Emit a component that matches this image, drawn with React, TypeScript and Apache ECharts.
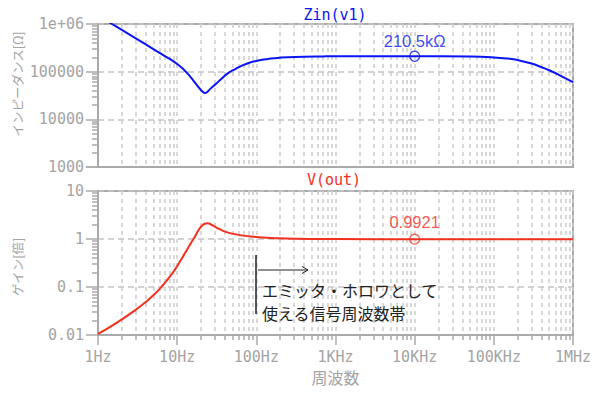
import { useEffect, useRef } from 'react';
import * as echarts from 'echarts';

// ---- data ----
const X_TICK_LABELS = ['1Hz', '10Hz', '100Hz', '1KHz', '10KHz', '100KHz', '1MHz'];
const ZIN_TICK_LABELS = ['1000', '10000', '100000', '1e+06']; // 10^3 .. 10^6
const GAIN_TICK_LABELS = ['0.01', '0.1', '1', '10']; // 10^-2 .. 10^1

const ZIN_FREQ = [1, 1.5, 2, 3, 5, 7, 9, 10.5, 12, 14, 16.8, 19, 21, 22.4, 24, 26, 30, 36, 44, 55, 65, 80, 106, 140, 172, 250, 400, 700, 1000, 10000, 50000, 100000, 150000, 200000, 300000, 400000, 500000, 700000, 1000000];
const ZIN_VALUES = [1.5e6, 1.0e6, 7.5e5, 5.0e5, 2.98e5, 2.12e5, 1.64e5, 1.36e5, 1.12e5, 8.6e4, 5.87e4, 4.54e4, 3.8e4, 3.55e4, 3.75e4, 4.3e4, 5.3e4, 7.0e4, 9.3e4, 1.15e5, 1.32e5, 1.52e5, 1.71e5, 1.85e5, 1.92e5, 2.0e5, 2.06e5, 2.09e5, 2.1e5, 2.105e5, 2.07e5, 1.99e5, 1.88e5, 1.75e5, 1.48e5, 1.24e5, 1.07e5, 8.2e4, 6.0e4];

const GAIN_FREQ = [1, 1.64, 2.93, 4.2, 5.25, 6.37, 8, 9.4, 11, 12.5, 14.5, 16.8, 18.5, 20.4, 22.3, 24.3, 27, 30, 33, 38, 44, 55, 65, 80, 106, 172, 300, 1000, 10000, 1000000];
const GAIN_VALUES = [0.0105, 0.017, 0.0325, 0.0519, 0.0726, 0.102, 0.161, 0.233, 0.351, 0.502, 0.76, 1.13, 1.5, 1.87, 2.08, 2.14, 1.98, 1.8, 1.65, 1.48, 1.36, 1.25, 1.19, 1.14, 1.09, 1.04, 1.01, 0.995, 0.9921, 0.9921];

const ZIN_MARKER = [10000, 210500];
const GAIN_MARKER = [10000, 0.9921];
const ZIN_MARKER_LABEL = '210.5kΩ';
const GAIN_MARKER_LABEL = '0.9921';

const ZIN_TITLE = 'Zin(v1)';
const GAIN_TITLE = 'V(out)';
const ZIN_AXIS_NAME = 'インピーダンス[Ω]';
const GAIN_AXIS_NAME = 'ゲイン[倍]';
const X_AXIS_NAME = '周波数';
const NOTE_LINES = ['エミッタ・ホロワとして', '使える信号周波数帯'];

// ---- styles ----
const BLUE = '#0a14f5';
const RED = '#f2301e';
const GRAY = '#aaaaaa';
const LABEL_GRAY = '#a4a4a4';
const MONO = 'DejaVu Sans Mono';
const CJK = 'Noto Sans CJK JP';

const zip = (xs: number[], ys: number[]) => xs.map((x, i) => [x, ys[i]]);
const expIdx = (v: number, base: number) => Math.round(Math.log10(v)) - base;

const vGrid = { show: true, lineStyle: { color: '#cccccc', width: 1.5, type: [4, 4] as number[] } };
const hGrid = { show: true, lineStyle: { color: '#c4c4c4', width: 1.5, type: [6, 4] as number[] } };
const axisLine = { show: true, lineStyle: { color: GRAY, width: 2 } };
const tickLabel = { color: LABEL_GRAY, fontFamily: MONO, fontSize: 15 };

function xAxis(gridIndex: number, bottom: boolean) {
  return {
    type: 'log',
    logBase: 10,
    gridIndex,
    min: 1,
    max: 1e6,
    axisLine,
    axisTick: { show: bottom, length: 10, lineStyle: { color: GRAY, width: 1.5 } },
    minorTick: { show: bottom, splitNumber: 9, length: 5, lineStyle: { color: GRAY, width: 1.5 } },
    axisLabel: {
      show: bottom,
      ...tickLabel,
      margin: 14,
      formatter: (v: number) => X_TICK_LABELS[expIdx(v, 0)] ?? '',
    },
    splitLine: vGrid,
    minorSplitLine: vGrid,
    ...(bottom
      ? {
          name: X_AXIS_NAME,
          nameLocation: 'middle',
          nameGap: 34,
          nameTextStyle: { color: LABEL_GRAY, fontFamily: CJK, fontSize: 16 },
        }
      : {}),
  };
}

function yAxis(gridIndex: number, min: number, max: number, labels: string[], base: number) {
  return {
    type: 'log',
    logBase: 10,
    gridIndex,
    min,
    max,
    axisLine,
    axisTick: { show: true, length: 12, lineStyle: { color: GRAY, width: 1.5 } },
    minorTick: { show: true, splitNumber: 9, length: 6, lineStyle: { color: GRAY, width: 1.5 } },
    axisLabel: {
      ...tickLabel,
      margin: 14,
      formatter: (v: number) => labels[expIdx(v, base)] ?? '',
    },
    splitLine: hGrid,
    minorSplitLine: { show: false },
  };
}

function markerSeries(xi: number, point: number[], color: string, label: string, distance: number) {
  return {
    type: 'scatter',
    xAxisIndex: xi,
    yAxisIndex: xi,
    data: [point],
    symbol: 'circle',
    symbolSize: 10,
    itemStyle: { color: 'transparent', borderColor: color, borderWidth: 1.3 },
    label: {
      show: true,
      position: 'top',
      distance,
      formatter: label,
      color,
      fontFamily: 'Liberation Sans',
      fontSize: 16.5,
    },
    z: 5,
  };
}

const option = {
  animation: false,
  backgroundColor: '#ffffff',
  grid: [
    { left: 98, top: 24, width: 475, height: 143, show: true, borderColor: GRAY, borderWidth: 2, backgroundColor: 'transparent' },
    { left: 98, top: 191, width: 475, height: 144, show: true, borderColor: GRAY, borderWidth: 2, backgroundColor: 'transparent' },
  ],
  xAxis: [xAxis(0, false), xAxis(1, true)],
  yAxis: [
    yAxis(0, 1000, 1e6, ZIN_TICK_LABELS, 3),
    yAxis(1, 0.01, 10, GAIN_TICK_LABELS, -2),
  ],
  series: [
    {
      type: 'line',
      xAxisIndex: 0,
      yAxisIndex: 0,
      data: zip(ZIN_FREQ, ZIN_VALUES),
      showSymbol: false,
      smooth: 0.5,
      clip: true,
      lineStyle: { color: BLUE, width: 2 },
      z: 4,
    },
    {
      type: 'line',
      xAxisIndex: 1,
      yAxisIndex: 1,
      data: zip(GAIN_FREQ, GAIN_VALUES),
      showSymbol: false,
      smooth: 0.5,
      clip: true,
      lineStyle: { color: RED, width: 2 },
      z: 4,
    },
    markerSeries(0, ZIN_MARKER, BLUE, ZIN_MARKER_LABEL, 1),
    markerSeries(1, GAIN_MARKER, RED, GAIN_MARKER_LABEL, 3),
  ],
  graphic: [
    { type: 'text', x: 335, y: 15, style: { text: ZIN_TITLE, fill: BLUE, font: `15px "${MONO}"`, align: 'center', verticalAlign: 'middle' } },
    { type: 'text', x: 334, y: 180, style: { text: GAIN_TITLE, fill: RED, font: `15px "${MONO}"`, align: 'center', verticalAlign: 'middle' } },
    { type: 'text', x: 17, y: 84, rotation: Math.PI / 2, style: { text: ZIN_AXIS_NAME, fill: LABEL_GRAY, font: `12.5px "${CJK}"`, align: 'center', verticalAlign: 'middle' } },
    { type: 'text', x: 17, y: 267, rotation: Math.PI / 2, style: { text: GAIN_AXIS_NAME, fill: LABEL_GRAY, font: `12.5px "${CJK}"`, align: 'center', verticalAlign: 'middle' } },
    { type: 'line', shape: { x1: 256, y1: 255, x2: 256, y2: 314 }, style: { stroke: '#222', lineWidth: 1.5 }, z: 10 },
    { type: 'line', shape: { x1: 258, y1: 270, x2: 308, y2: 270 }, style: { stroke: '#222', lineWidth: 1 }, z: 10 },
    { type: 'polyline', shape: { points: [[302, 266.5], [308, 270], [302, 273.5]] }, style: { stroke: '#222', lineWidth: 1, fill: 'none' }, z: 10 },
    { type: 'text', x: 262, y: 290, style: { text: NOTE_LINES[0], fill: '#222', font: `16px "${CJK}"`, verticalAlign: 'middle' }, z: 10 },
    { type: 'text', x: 262, y: 313, style: { text: NOTE_LINES[1], fill: '#222', font: `16px "${CJK}"`, verticalAlign: 'middle' }, z: 10 },
  ],
};

export default function App() {
  const ref = useRef<HTMLDivElement>(null);
  useEffect(() => {
    const chart = echarts.init(ref.current!, null, { renderer: 'svg' });
    chart.setOption(option as any);
    return () => chart.dispose();
  }, []);
  return <div ref={ref} style={{ position: 'fixed', left: 0, top: 0, width: 600, height: 396 }} />;
}
